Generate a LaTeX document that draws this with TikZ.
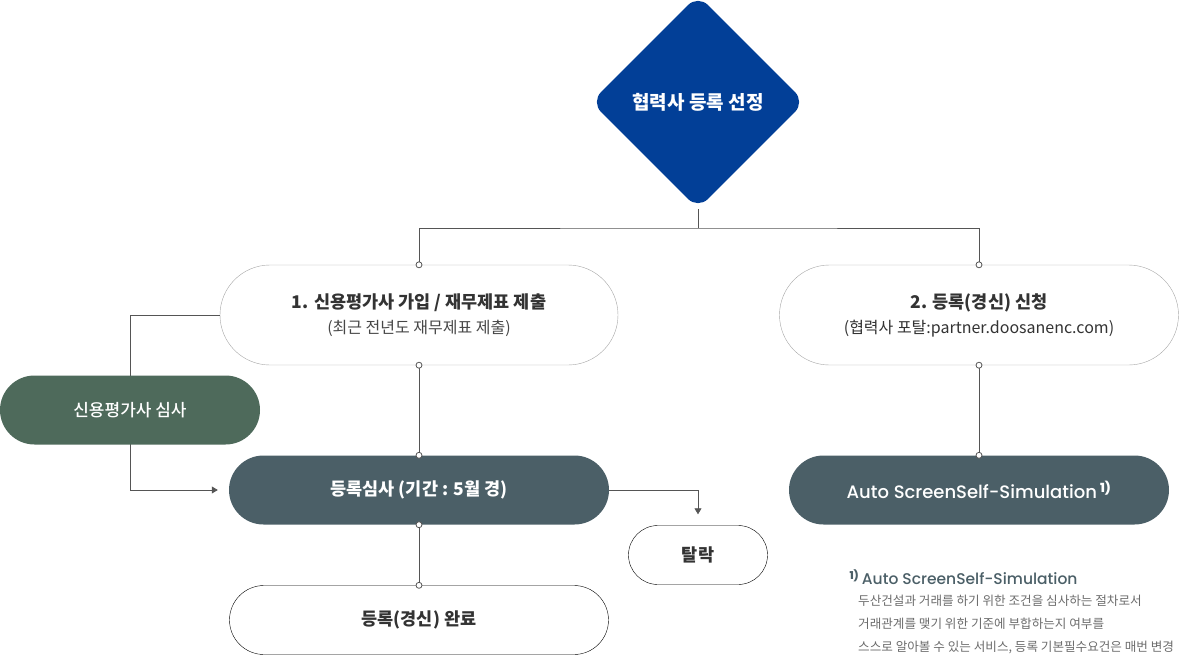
\documentclass[tikz,border=0pt]{standalone}
\usepackage{fontspec}
\setmainfont{Noto Sans CJK KR}
\newfontfamily\medfont{Noto Sans CJK KR Medium}
\newfontfamily\latinfont{Poppins}[UprightFont={* Medium}]
\usetikzlibrary{shapes.geometric,arrows.meta}
\definecolor{selblue}{HTML}{023F97}
\definecolor{credgreen}{HTML}{4E6A5B}
\definecolor{slate}{HTML}{4B5F67}
\definecolor{linegray}{HTML}{555555}
\definecolor{textgray}{HTML}{333333}
\newcommand{\fsz}[1]{\fontsize{#1}{#1}\selectfont}

\begin{document}
\begin{tikzpicture}[x=1pt,y=-1pt,
  pill/.style n args={3}{rectangle,rounded corners=#3,minimum width=#1,minimum height=#2,align=center,inner sep=0pt},
  outline/.style={draw=#1,fill=white,text=textgray},
  solid/.style={fill=#1,text=white},
  link/.style={draw=linegray,line width=0.8pt},
  dot/.style={circle,draw=linegray,fill=white,line width=0.8pt,inner sep=0pt,minimum size=6pt}]
\useasboundingbox (0,0) rectangle (1179,657);
% nodes
\node[diamond,fill=selblue,minimum width=214,minimum height=214,rounded corners=14,text=white,font=\bfseries\fsz{19}] (sel) at (698,102) {협력사 등록 선정};
\node[pill={398}{100}{50},outline=gray!70] (step1) at (419,315)
   {{\bfseries\fsz{17.5}1. 신용평가사 가입 / 재무제표 제출}\\[7pt]{\fsz{16}\color{textgray!90}(최근 전년도 재무제표 제출)}};
\node[pill={399}{100}{50},outline=gray!70] (step2) at (979,315)
   {{\bfseries\fsz{17.5}2. 등록(경신) 신청}\\[7pt]{\fsz{16}(협력사 포탈:partner.doosanenc.com)}};
\node[pill={380}{69}{34.5},solid=slate,font=\bfseries\fsz{17.5}] (review) at (419,490) {등록심사 (기간 : 5월 경)};
\node[pill={139}{59}{29.5},outline=black,font=\bfseries\fsz{17.5}] (drop) at (698,555) {탈락};
\node[pill={379}{69}{34.5},outline=black,font=\bfseries\fsz{17.5}] (done) at (419,620) {등록(경신) 완료};
\node[pill={380}{69}{34.5},solid=slate,font=\latinfont\fsz{18}] (auto) at (979,490) {Auto ScreenSelf-Simulation\,\textsuperscript{\bfseries 1)}};
\coordinate (split) at (698,228);
\coordinate (bend) at (130,490);
% connectors
\draw[link] (sel.south) -- (split);
\draw[link] (step1.north) |- (split) -| (step2.north);
\draw[link] (step1.south) -- (review.north);
\draw[link] (review.south) -- (done.north);
\draw[link] (step2.south) -- (auto.north);
\draw[link,-{Triangle[length=6pt,width=7pt]},shorten >=11pt] (step1.west) -| (bend) -- (review.west);
\draw[link,-{Triangle[length=6pt,width=7pt]},shorten >=11pt] (review.east) -| (drop.north);
\node[pill={260}{69}{34.5},solid=credgreen,font=\medfont\fsz{17}] (credit) at (130,410) {신용평가사 심사};
\foreach \n/\a in {step1/north,step2/north,step1/south,step2/south,review/north,review/south,auto/north,done/north} {
   \node[dot] at (\n.\a) {};
}
% footnote
\node[anchor=west,text=slate,font=\latinfont\fsz{15.5}] (notehead) at (846,577) {\textsuperscript{\bfseries 1)}\,Auto ScreenSelf-Simulation};
\node[anchor=north west,align=left,text=gray!85!black,font=\fsz{12.6},inner sep=0pt] (notebody) at (858,595)
   {두산건설과 거래를 하기 위한 조건을 심사하는 절차로서\\[10.4pt]
    거래관계를 맺기 위한 기준에 부합하는지 여부를\\[10.4pt]
    스스로 알아볼 수 있는 서비스, 등록 기본필수요건은 매번 변경};
\end{tikzpicture}
\end{document}
